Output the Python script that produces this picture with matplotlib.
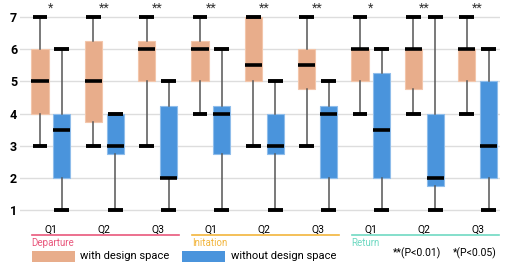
import matplotlib.pyplot as plt
import matplotlib.transforms as mtransforms
from matplotlib.patches import Rectangle
import numpy as np

plt.rcParams['font.family'] = ['Roboto', 'DejaVu Sans']

questions = ['Q1', 'Q2', 'Q3', 'Q1', 'Q2', 'Q3', 'Q1', 'Q2', 'Q3']
groups = ['Departure', 'Initation', 'Return']
group_colors = ['#e9577c', '#f2b53c', '#6fd9c2']
stars = ['*', '**', '**', '**', '**', '**', '*', '**', '**']

# with design space: whisker low, q1, median, q3, whisker high
with_lo = [3, 3, 3, 4, 3, 3, 4, 4, 4]
with_q1 = [4, 3.75, 5, 5, 5, 4.75, 5, 4.75, 5]
with_med = [5, 5, 6, 6, 5.5, 5.5, 6, 6, 6]
with_q3 = [6, 6.25, 6.25, 6.25, 7, 6, 6, 6, 6]
with_hi = [7, 7, 7, 7, 7, 7, 7, 7, 7]

# without design space
wo_lo = [1, 1, 1, 1, 1, 1, 1, 1, 1]
wo_q1 = [2, 2.75, 2, 2.75, 2.75, 2, 2, 1.75, 2]
wo_med = [3.5, 3, 2, 4, 3, 4, 3.5, 2, 3]
wo_q3 = [4, 4, 4.25, 4.25, 4, 4.25, 5.25, 4, 5]
wo_hi = [6, 4, 5, 6, 5, 5, 6, 7, 6]

orange = '#e8ad8b'
blue = '#4a94dc'


def make_stats(lo, q1, med, q3, hi):
    return [dict(whislo=a, q1=b, med=c, q3=d, whishi=e, fliers=[])
            for a, b, c, d, e in zip(lo, q1, med, q3, hi)]


fig = plt.figure(figsize=(5.05, 2.66), dpi=100)
ax = fig.add_axes([20 / 505, 1 - 215 / 266, 480 / 505, 215 / 266])

pos = np.arange(len(questions))
off = 0.205
for stats, shift, col, edge in [(make_stats(with_lo, with_q1, with_med, with_q3, with_hi), -off, orange, '#f3c6ab'),
                                (make_stats(wo_lo, wo_q1, wo_med, wo_q3, wo_hi), off, blue, '#8fbdeb')]:
    ax.bxp(stats, positions=pos + shift, widths=0.32, capwidths=0.28,
           patch_artist=True, showfliers=False, manage_ticks=False,
           boxprops=dict(facecolor=col, edgecolor=edge, linewidth=0.8),
           whiskerprops=dict(color='#555555', linewidth=1.1),
           capprops=dict(color='black', linewidth=2.8, solid_capstyle='butt'),
           medianprops=dict(color='black', linewidth=2.6, solid_capstyle='butt'),
           zorder=3)

for p, s in zip(pos, stars):
    ax.text(p, 7.08, s, ha='center', va='bottom', fontsize=9, color='#333333')

ax.set_xlim(-0.58, 8.42)
ax.set_ylim(0.85, 7.53)
ax.set_yticks([1, 2, 3, 4, 5, 6, 7])
ax.set_yticklabels(['1', '2', '3', '4', '5', '6', '7'], fontweight='bold', fontsize=9)
ax.set_xticks(pos)
ax.set_xticklabels(questions, fontsize=7.5)
ax.tick_params(length=0)
ax.tick_params(axis='x', pad=7)
ax.tick_params(axis='y', pad=2)
ax.grid(True, axis='y', color='#dddddd', linewidth=1)
ax.set_axisbelow(True)
for sp in ax.spines.values():
    sp.set_visible(False)

# group lines and labels under the axis
trans = mtransforms.blended_transform_factory(ax.transData, fig.transFigure)
for i, (g, c) in enumerate(zip(groups, group_colors)):
    x0 = i * 3 - 0.36
    x1 = i * 3 + 2 + 0.4
    ax.plot([x0, x1], [1 - 235 / 266] * 2, color=c, linewidth=1.2,
            transform=trans, clip_on=False)
    ax.text(x0, 1 - 243 / 266, g, color=c, fontsize=7, ha='left', va='center',
            transform=trans)

# legend
ly = 1 - 262 / 266
fig.patches.append(Rectangle((32 / 505, ly), 43 / 505, 11 / 266, facecolor=orange,
                             edgecolor='none', transform=fig.transFigure))
fig.text(80 / 505, 1 - 256 / 266, 'with design space', fontsize=8, va='center')
fig.patches.append(Rectangle((182 / 505, ly), 43 / 505, 11 / 266, facecolor=blue,
                             edgecolor='none', transform=fig.transFigure))
fig.text(231 / 505, 1 - 256 / 266, 'without design space', fontsize=8, va='center')
fig.text(393 / 505, 1 - 253 / 266, '**(P<0.01)', fontsize=7.5, va='center')
fig.text(453 / 505, 1 - 253 / 266, '*(P<0.05)', fontsize=7.5, va='center')

fig.savefig('out.png', dpi=100)
